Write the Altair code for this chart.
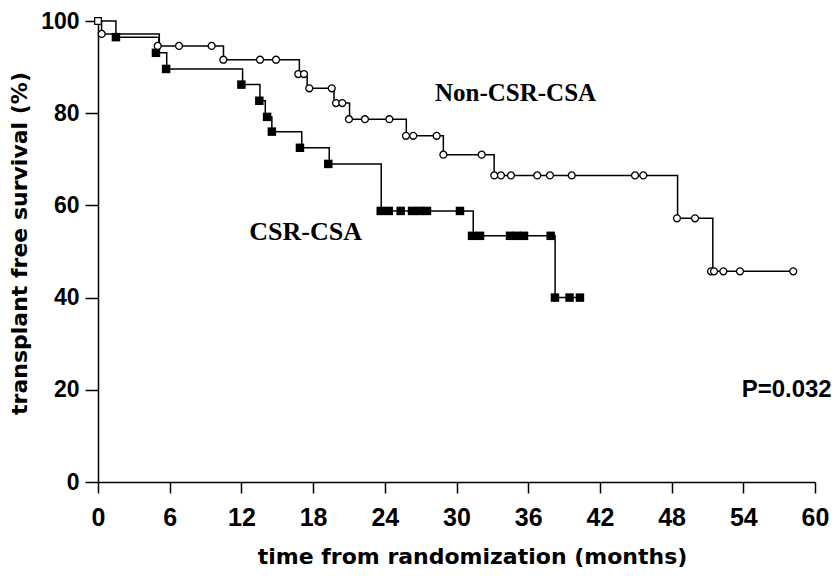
import altair as alt
import pandas as pd

# ---- CSR-CSA group (filled squares) ----
csr_step_t = [0, 1.5, 5.1, 5.75, 12.1, 13.55, 14.0, 14.55, 17.05, 19.35, 23.7, 31.4, 38.25, 40.4]
csr_step_s = [100, 96.5, 93.1, 89.6, 86.2, 82.7, 79.2, 76.0, 72.5, 69.0, 58.8, 53.4, 40.0, 40.0]
csr_mark_t = [1.5, 4.85, 5.7, 12.0, 13.5, 14.15, 14.55, 16.9, 19.27,
              23.66, 24.33, 25.33, 26.28, 26.9, 27.53, 30.29,
              31.3, 31.97, 34.48, 35.06, 35.65, 37.88,
              38.24, 39.46, 40.33]
csr_mark_s = [96.5, 93.1, 89.6, 86.2, 82.7, 79.2, 76.0, 72.5, 69.0,
              58.8, 58.8, 58.8, 58.8, 58.8, 58.8, 58.8,
              53.4, 53.4, 53.4, 53.4, 53.4, 53.4,
              40.0, 40.0, 40.0]

# ---- Non-CSR-CSA group (open circles) ----
non_step_t = [0, 0.3, 5.13, 10.5, 16.85, 17.5, 19.75, 21.05, 25.8, 28.9, 33.15, 48.5, 51.45, 58.2]
non_step_s = [100, 97.2, 94.6, 91.6, 88.5, 85.4, 82.2, 78.7, 75.1, 71.0, 66.5, 57.2, 45.7, 45.7]
non_mark_t = [0.31, 5.0, 6.78, 9.51, 10.49, 13.56, 14.9, 16.76, 17.24,
              17.68, 19.56, 19.92, 20.44, 21.0, 22.34, 24.38,
              25.77, 26.38, 28.34, 28.9, 32.11,
              33.16, 33.72, 34.56, 36.76, 37.82, 39.64, 44.94, 45.63,
              48.45, 49.96, 51.3, 51.55, 52.33, 53.72, 58.18]
non_mark_s = [97.2, 94.6, 94.6, 94.6, 91.6, 91.6, 91.6, 88.5, 88.5,
              85.4, 85.4, 82.2, 82.2, 78.7, 78.7, 78.7,
              75.1, 75.1, 75.1, 71.0, 71.0,
              66.5, 66.5, 66.5, 66.5, 66.5, 66.5, 66.5, 66.5,
              57.2, 57.2, 45.7, 45.7, 45.7, 45.7, 45.7]

start_t = [0]
start_s = [100]

x_ticks = [0, 6, 12, 18, 24, 30, 36, 42, 48, 54, 60]
y_ticks = [0, 20, 40, 60, 80, 100]

csr_line_df = pd.DataFrame({"t": csr_step_t, "s": csr_step_s})
non_line_df = pd.DataFrame({"t": non_step_t, "s": non_step_s})
csr_mark_df = pd.DataFrame({"t": csr_mark_t, "s": csr_mark_s})
non_mark_df = pd.DataFrame({"t": non_mark_t, "s": non_mark_s})
start_df = pd.DataFrame({"t": start_t, "s": start_s})

xs = alt.Scale(domain=[0, 60], nice=False)
ys = alt.Scale(domain=[0, 100], nice=False)

x_axis = alt.Axis(
    values=x_ticks, grid=False, tickSize=11, tickWidth=1.5, tickColor="black",
    domainColor="black", domainWidth=1.5, labelFont="Liberation Sans",
    labelFontWeight="bold", labelFontSize=25, labelColor="black", labelPadding=12,
    labelFlush=False,
    title="time from randomization (months)", titleFont="DejaVu Sans",
    titleFontWeight="bold", titleFontSize=22, titleColor="black",
    titleX=374, titleY=81, titleBaseline="alphabetic", titleAlign="center",
)
y_axis = alt.Axis(
    values=y_ticks, grid=False, tickSize=13, tickWidth=1.5, tickColor="black",
    domainColor="black", domainWidth=1.5, labelFont="Liberation Sans",
    labelFontWeight="bold", labelFontSize=23, labelColor="black", labelPadding=6,
    labelFlush=False,
    title="transplant free survival (%)", titleFont="DejaVu Sans",
    titleFontWeight="bold", titleFontSize=22, titleColor="black",
    titleAngle=270, titleX=-72, titleY=222, titleBaseline="alphabetic",
    titleAlign="center",
)

X = alt.X("t:Q", scale=xs, axis=x_axis)
Y = alt.Y("s:Q", scale=ys, axis=y_axis)

csr_line = alt.Chart(csr_line_df).mark_line(
    interpolate="step-after", color="black", strokeWidth=1.5
).encode(x=X, y=Y)
non_line = alt.Chart(non_line_df).mark_line(
    interpolate="step-after", color="black", strokeWidth=1.5
).encode(x=X, y=Y)

csr_pts = alt.Chart(csr_mark_df).mark_point(
    shape="square", filled=True, color="black", size=72, opacity=1
).encode(x=X, y=Y)
non_pts = alt.Chart(non_mark_df).mark_point(
    shape="circle", filled=True, fill="white", stroke="black", strokeWidth=1.3,
    size=48, opacity=1
).encode(x=X, y=Y)
start_pt = alt.Chart(start_df).mark_point(
    shape="square", filled=True, fill="white", stroke="black", strokeWidth=1.3,
    size=45, opacity=1
).encode(x=X, y=Y)

lab_non = alt.Chart(pd.DataFrame({"t": [28.2], "s": [82.6], "txt": ["Non-CSR-CSA"]})).mark_text(
    align="left", baseline="alphabetic", font="Liberation Serif", fontWeight="bold",
    fontSize=25, color="black"
).encode(x=X, y=Y, text="txt:N")
lab_csr = alt.Chart(pd.DataFrame({"t": [12.66], "s": [52.6], "txt": ["CSR-CSA"]})).mark_text(
    align="left", baseline="alphabetic", font="Liberation Serif", fontWeight="bold",
    fontSize=26, color="black"
).encode(x=X, y=Y, text="txt:N")
lab_p = alt.Chart(pd.DataFrame({"t": [61.4], "s": [18.5], "txt": ["P=0.032"]})).mark_text(
    align="right", baseline="alphabetic", font="Liberation Sans", fontWeight="bold",
    fontSize=24, color="black"
).encode(x=X, y=Y, text="txt:N")

chart = alt.layer(
    csr_line, non_line, csr_pts, non_pts, start_pt, lab_non, lab_csr, lab_p
).properties(
    width=717, height=461,
    autosize=alt.AutoSizeParams(type="none"),
    padding={"left": 90, "top": 13, "right": 17, "bottom": 86},
    background="white",
).configure_view(stroke=None)

chart.save("out.html", embed_options={"renderer": "svg", "actions": False})
